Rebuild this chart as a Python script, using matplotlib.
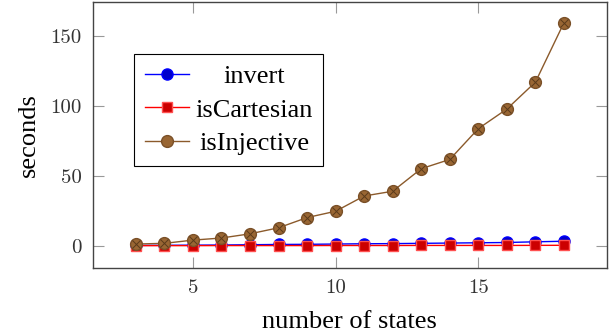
import matplotlib
matplotlib.use("Agg")
import matplotlib.pyplot as plt

# run times per number of states
states = [3, 4, 5, 6, 7, 8, 9, 10, 11, 12, 13, 14, 15, 16, 17, 18]
invert = [0.2, 0.3, 0.4, 0.5, 0.7, 0.9, 1.0, 1.2, 1.4, 1.5, 1.7, 1.9, 2.1, 2.3, 2.8, 3.2]
is_cartesian = [0.05, 0.05, 0.05, 0.1, 0.1, 0.1, 0.1, 0.15, 0.15, 0.15, 0.2, 0.2, 0.2, 0.2, 0.25, 0.3]
is_injective = [1.2, 1.7, 4.0, 5.5, 8.5, 12.8, 20.1, 24.6, 35.5, 38.9, 55.0, 61.6, 83.6, 97.6, 116.8, 159.2]

xticks = [5, 10, 15]
yticks = [0, 50, 100, 150]

fig = plt.figure(figsize=(6.16, 3.36), dpi=100)
ax = fig.add_axes([0.151, 0.202, 0.834, 0.792])

ax.plot(states, invert, color="blue", lw=1, marker="o", ms=8,
        mfc="#0000cc", mec="blue", label="invert", zorder=3)
ax.plot(states, is_cartesian, color="red", lw=1, marker="s", ms=7.5,
        mfc="#cc0000", mec="#ff5050", label="isCartesian", zorder=3)
ax.plot(states, is_injective, color="#8b5a2b", lw=1, marker="o", ms=8.5,
        mfc="#996633", mec="#7a5028", label="isInjective", zorder=4)
ax.plot(states, is_injective, ls="none", marker="x", ms=5.2, mew=0.7,
        color="#5a3a1a", zorder=5)

ax.set_xlim(1.5, 19.5)
ax.set_ylim(-16, 174)
ax.set_xticks(xticks)
ax.set_yticks(yticks)
ax.tick_params(direction="in", length=8, width=0.8, color="#999999",
               top=True, right=True, pad=8)
for lab in ax.get_xticklabels() + ax.get_yticklabels():
    lab.set_fontfamily("cmr10")
    lab.set_fontsize(15)
    lab.set_color("#333333")
for s in ax.spines.values():
    s.set_color("#444444")
    s.set_linewidth(1)

ax.set_xlabel("number of states", family="Liberation Serif", fontsize=19, labelpad=10)
ax.set_ylabel("seconds", family="Liberation Serif", fontsize=19, labelpad=8)

leg = ax.legend(loc="upper left", bbox_to_anchor=(0.08, 0.8045),
                prop={"family": "Liberation Serif", "size": 19},
                frameon=True, fancybox=False, edgecolor="black", framealpha=1,
                handlelength=1.67, borderpad=0.4, labelspacing=0.38,
                handletextpad=0.25, borderaxespad=0)
leg.get_frame().set_linewidth(0.8)

# centre the legend labels like pgfplots does
fig.canvas.draw()
r = fig.canvas.get_renderer()
widths = [t.get_window_extent(r).width for t in leg.get_texts()]
wmax = max(widths)
for t, w in zip(leg.get_texts(), widths):
    t.set_x((wmax - w) / 2)

fig.savefig("out.png", dpi=100)
